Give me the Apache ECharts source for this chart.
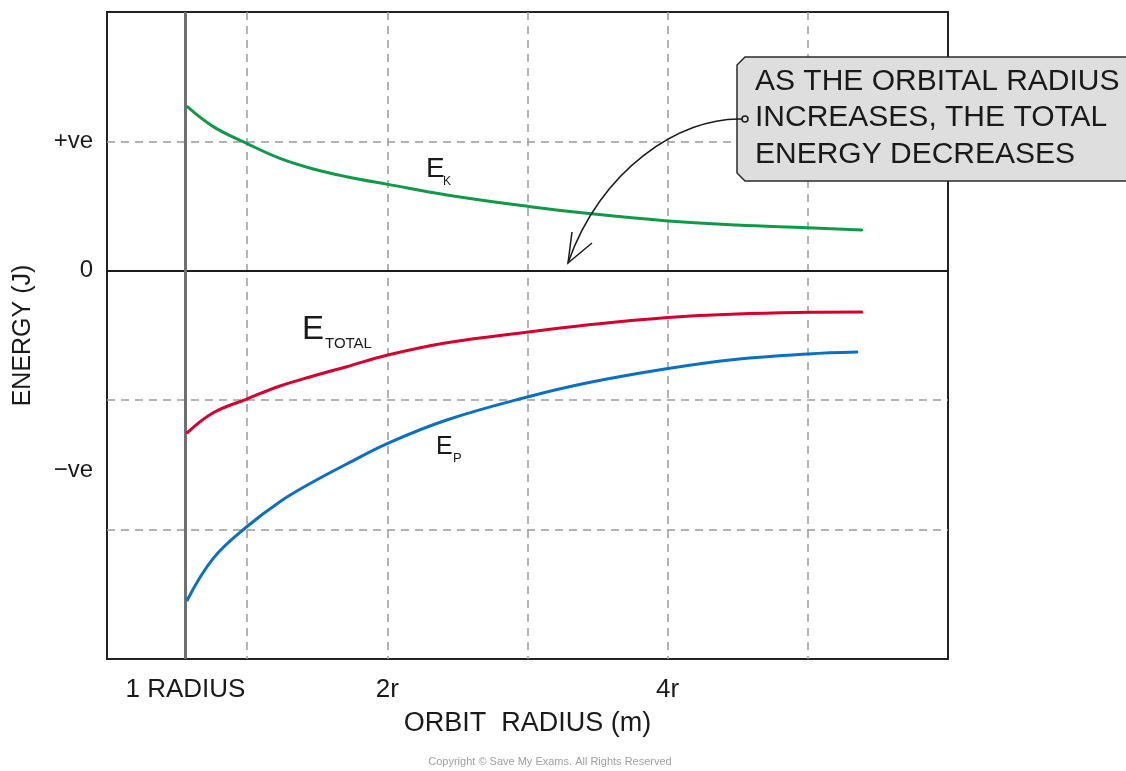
<!DOCTYPE html>
<html>
<head>
<meta charset="utf-8">
<script src="https://cdn.jsdelivr.net/npm/echarts@6/dist/echarts.min.js"></script>
<style>html,body{margin:0;padding:0;background:#fff}#c{width:1126px;height:771px}</style>
</head>
<body>
<div id="c"></div>
<script>
const FONT = '"Liberation Sans", Arial, sans-serif';

// Axis ticks / labels
const xTickValues = [0.56, 2, 4];
const xTickLabels = ['1 RADIUS', '2r', '4r'];
const yTickValues = [1, 0, -1.54];
const yTickLabels = ['+ve', '0', '\u2212ve'];
const oneRadius = 0.56;

// Orbit radius samples (grid units)
const radius = [0.573, 0.758, 0.997, 1.234, 1.472, 1.710, 2.003, 2.424, 3.006, 3.422, 3.981, 4.493, 4.999, 5.384];
const epRadius = [0.573, 0.758, 0.997, 1.234, 1.472, 1.710, 2.003, 2.424, 3.006, 3.422, 3.981, 4.493, 4.999, 5.349];

// Kinetic energy E_K
const ekEnergy = [1.268, 1.114, 0.984, 0.869, 0.787, 0.727, 0.668, 0.586, 0.497, 0.444, 0.387, 0.354, 0.333, 0.315];
// Total energy E_TOTAL
const etEnergy = [-1.251, -1.097, -0.991, -0.890, -0.813, -0.741, -0.651, -0.556, -0.473, -0.419, -0.362, -0.334, -0.321, -0.318];
// Potential energy E_P
const epEnergy = [-2.544, -2.222, -1.978, -1.784, -1.630, -1.493, -1.333, -1.153, -0.973, -0.867, -0.759, -0.684, -0.643, -0.628];

const zip = (xs, ys) => xs.map((x, i) => [x, ys[i]]);

const chart = echarts.init(document.getElementById('c'), null, {renderer: 'canvas'});

const dashed = {show: true, lineStyle: {color: '#9a9a9a', width: 1.5, type: [8, 6]}, showMinLine: false, showMaxLine: false};

const option = {
  animation: false,
  backgroundColor: '#ffffff',
  grid: {left: 107, right: 178, top: 12, bottom: 112, show: true, borderColor: '#222', borderWidth: 2,
    backgroundColor: 'transparent', containLabel: false, outerBoundsMode: 'none'},
  xAxis: {
    type: 'value', min: 0, max: 6, interval: 1,
    name: 'ORBIT  RADIUS (m)', nameLocation: 'middle', nameGap: 51,
    nameTextStyle: {fontFamily: FONT, fontSize: 27, color: '#1a1a1a'},
    axisLine: {show: false}, axisTick: {show: false},
    splitLine: dashed,
    axisLabel: {
      customValues: xTickValues, margin: 18,
      fontFamily: FONT, fontSize: 26, color: '#1a1a1a',
      formatter: v => { const i = xTickValues.findIndex(t => Math.abs(t - v) < 1e-6); return i >= 0 ? xTickLabels[i] : ''; }
    }
  },
  yAxis: {
    type: 'value', min: -3, max: 2, interval: 1,
    name: 'ENERGY (J)', nameLocation: 'middle', nameGap: 71, nameRotate: 90,
    nameTextStyle: {fontFamily: FONT, fontSize: 25, color: '#1a1a1a'},
    axisLine: {show: false}, axisTick: {show: false},
    splitLine: dashed,
    axisLabel: {
      customValues: yTickValues, margin: 14,
      fontFamily: FONT, fontSize: 24, color: '#1a1a1a',
      formatter: v => { const i = yTickValues.findIndex(t => Math.abs(t - v) < 1e-6); return i >= 0 ? yTickLabels[i] : ''; }
    }
  },
  series: [
    {
      name: 'E_K', type: 'line', data: zip(radius, ekEnergy), smooth: 0.4,
      showSymbol: false, lineStyle: {color: '#11994a', width: 3, cap: 'round'}, z: 5,
      markLine: {
        silent: true, symbol: ['none', 'none'], label: {show: false}, z: 3,
        data: [
          {yAxis: 0, lineStyle: {color: '#1a1a1a', width: 2, type: 'solid'}},
          {xAxis: oneRadius, lineStyle: {color: '#707070', width: 3, type: 'solid'}}
        ]
      }
    },
    {
      name: 'E_TOTAL', type: 'line', data: zip(radius, etEnergy), smooth: 0.4,
      showSymbol: false, lineStyle: {color: '#d6002e', width: 3, cap: 'round'}, z: 5
    },
    {
      name: 'E_P', type: 'line', data: zip(epRadius, epEnergy), smooth: 0.4,
      showSymbol: false, lineStyle: {color: '#0b6fc2', width: 3, cap: 'round'}, z: 5
    }
  ],
  graphic: [
    // curve labels
    {type: 'text', z: 20, style: {text: 'E', x: 426, y: 169, font: '28px ' + FONT, fill: '#1a1a1a', verticalAlign: 'middle'}},
    {type: 'text', z: 20, style: {text: 'K', x: 443, y: 182, font: '12px ' + FONT, fill: '#1a1a1a', verticalAlign: 'middle'}},
    {type: 'text', z: 20, style: {text: 'E', x: 302, y: 330, font: '33px ' + FONT, fill: '#1a1a1a', verticalAlign: 'middle'}},
    {type: 'text', z: 20, style: {text: 'TOTAL', x: 325, y: 344, font: '15px ' + FONT, fill: '#1a1a1a', verticalAlign: 'middle'}},
    {type: 'text', z: 20, style: {text: 'E', x: 436, y: 447, font: '25px ' + FONT, fill: '#1a1a1a', verticalAlign: 'middle'}},
    {type: 'text', z: 20, style: {text: 'P', x: 453, y: 458, font: '13px ' + FONT, fill: '#1a1a1a', verticalAlign: 'middle'}},
    // annotation box
    {type: 'polygon', z: 40, shape: {points: [[745, 57], [1140, 57], [1140, 181], [745, 181], [737, 173], [737, 65]]},
      style: {fill: '#dedede', stroke: '#2a2a2a', lineWidth: 1.5}},
    // annotation arrow
    {type: 'bezierCurve', z: 45, shape: {x1: 742, y1: 119, cpx1: 680, cpy1: 117, cpx2: 600, cpy2: 170, x2: 568, y2: 263},
      style: {stroke: '#1a1a1a', lineWidth: 1.5, fill: null}},
    {type: 'polyline', z: 45, shape: {points: [[572, 232], [568, 263], [592, 243]]},
      style: {stroke: '#1a1a1a', lineWidth: 1.5, fill: null}},
    {type: 'circle', z: 46, shape: {cx: 745, cy: 119, r: 3}, style: {fill: '#dedede', stroke: '#1a1a1a', lineWidth: 1.5}},
    {type: 'text', z: 42, style: {text: 'AS THE ORBITAL RADIUS', x: 755, y: 82, font: '30px ' + FONT, fill: '#1a1a1a', verticalAlign: 'middle'}},
    {type: 'text', z: 42, style: {text: 'INCREASES, THE TOTAL', x: 755, y: 118, font: '30px ' + FONT, fill: '#1a1a1a', verticalAlign: 'middle'}},
    {type: 'text', z: 42, style: {text: 'ENERGY DECREASES', x: 755, y: 155, font: '30px ' + FONT, fill: '#1a1a1a', verticalAlign: 'middle'}},
    // copyright
    {type: 'text', z: 20, style: {text: 'Copyright \u00a9 Save My Exams. All Rights Reserved', x: 550, y: 762, font: '11px ' + FONT, fill: '#a0a0a0', align: 'center', verticalAlign: 'middle'}}
  ]
};
chart.setOption(option);
</script>
</body>
</html>
